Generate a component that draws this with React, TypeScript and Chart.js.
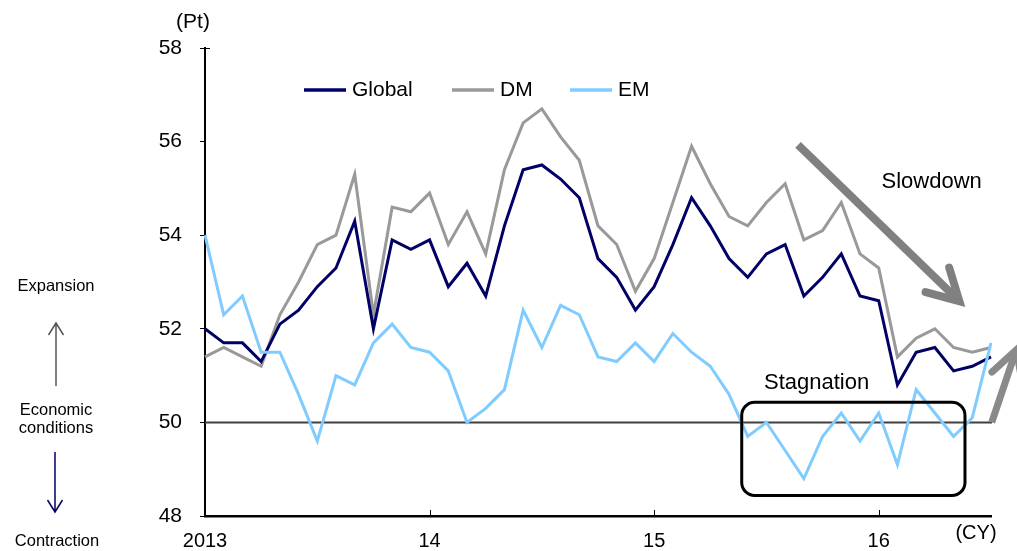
import React, { useEffect, useRef } from 'react';
import { Chart, registerables } from 'chart.js';

Chart.register(...registerables);

// Monthly PMI readings, Jan 2013 – Jul 2016
const MONTHS = [
  '2013-01', '2013-02', '2013-03', '2013-04', '2013-05', '2013-06', '2013-07', '2013-08', '2013-09', '2013-10', '2013-11', '2013-12',
  '2014-01', '2014-02', '2014-03', '2014-04', '2014-05', '2014-06', '2014-07', '2014-08', '2014-09', '2014-10', '2014-11', '2014-12',
  '2015-01', '2015-02', '2015-03', '2015-04', '2015-05', '2015-06', '2015-07', '2015-08', '2015-09', '2015-10', '2015-11', '2015-12',
  '2016-01', '2016-02', '2016-03', '2016-04', '2016-05', '2016-06', '2016-07',
];

// Year labels shown at each January
const YEAR_LABELS = ['2013', '14', '15', '16'];

const GLOBAL = [
  52.0, 51.7, 51.7, 51.3, 52.1, 52.4, 52.9, 53.3, 54.3, 52.0, 53.9, 53.7,
  53.9, 52.9, 53.4, 52.7, 54.2, 55.4, 55.5, 55.2, 54.8, 53.5, 53.1, 52.4,
  52.9, 53.8, 54.8, 54.2, 53.5, 53.1, 53.6, 53.8, 52.7, 53.1, 53.6, 52.7,
  52.6, 50.8, 51.5, 51.6, 51.1, 51.2, 51.4,
];

const DM = [
  51.4, 51.6, 51.4, 51.2, 52.3, 53.0, 53.8, 54.0, 55.3, 52.3, 54.6, 54.5,
  54.9, 53.8, 54.5, 53.6, 55.4, 56.4, 56.7, 56.1, 55.6, 54.2, 53.8, 52.8,
  53.5, 54.7, 55.9, 55.1, 54.4, 54.2, 54.7, 55.1, 53.9, 54.1, 54.7, 53.6,
  53.3, 51.4, 51.8, 52.0, 51.6, 51.5, 51.6,
];

const EM = [
  54.0, 52.3, 52.7, 51.5, 51.5, 50.6, 49.6, 51.0, 50.8, 51.7, 52.1, 51.6,
  51.5, 51.1, 50.0, 50.3, 50.7, 52.4, 51.6, 52.5, 52.3, 51.4, 51.3, 51.7,
  51.3, 51.9, 51.5, 51.2, 50.6, 49.7, 50.0, 49.4, 48.8, 49.7, 50.2, 49.6,
  50.2, 49.1, 50.7, 50.2, 49.7, 50.1, 51.7,
];

const SERIES_NAMES = ['Global', 'DM', 'EM'];
const SERIES_COLORS = ['#000066', '#999999', '#80CCFF'];

// Boom/bust threshold of the index
const NEUTRAL_LEVEL = 50;
const Y_MIN = 48;
const Y_MAX = 58;
const Y_STEP = 2;

// Annotations, placed in (month index, index level) coordinates
const SLOWDOWN_ARROW = { from: [31.69, 55.93], to: [40.31, 52.59] };
const RECOVERY_ARROW = { from: [42.04, 50.0], to: [43.35, 51.55] };
const STAGNATION_BOX = { x0: 28.68, x1: 40.61, yTop: 50.43, yBottom: 48.44 };
const SLOWDOWN_LABEL = { text: 'Slowdown', at: [38.83, 55.14] };
const STAGNATION_LABEL = { text: 'Stagnation', at: [32.68, 50.84] };

const FONT = '"Liberation Sans", Arial, Helvetica, sans-serif';

function drawArrow(
  ctx: CanvasRenderingContext2D,
  x0: number, y0: number, x1: number, y1: number,
  width: number, color: string, headLen: number, headAngle: number,
) {
  const ang = Math.atan2(y1 - y0, x1 - x0);
  ctx.save();
  ctx.strokeStyle = color;
  ctx.lineWidth = width;
  ctx.lineCap = 'butt';
  ctx.beginPath();
  ctx.moveTo(x0, y0);
  ctx.lineTo(x1 - Math.cos(ang) * width * 0.5, y1 - Math.sin(ang) * width * 0.5);
  ctx.stroke();
  ctx.lineCap = 'round';
  ctx.lineJoin = 'miter';
  ctx.beginPath();
  ctx.moveTo(x1 - headLen * Math.cos(ang - headAngle), y1 - headLen * Math.sin(ang - headAngle));
  ctx.lineTo(x1, y1);
  ctx.lineTo(x1 - headLen * Math.cos(ang + headAngle), y1 - headLen * Math.sin(ang + headAngle));
  ctx.stroke();
  ctx.restore();
}

function drawThinArrow(
  ctx: CanvasRenderingContext2D,
  x: number, yFrom: number, yTo: number, color: string,
) {
  const dir = yTo > yFrom ? 1 : -1;
  ctx.save();
  ctx.strokeStyle = color;
  ctx.lineWidth = 1.5;
  ctx.beginPath();
  ctx.moveTo(x, yFrom);
  ctx.lineTo(x, yTo);
  ctx.moveTo(x - 7.5, yTo - dir * 12);
  ctx.lineTo(x, yTo);
  ctx.lineTo(x + 7.5, yTo - dir * 12);
  ctx.stroke();
  ctx.restore();
}

const overlayPlugin = {
  id: 'pmiOverlays',
  beforeDatasetsDraw(chart: any) {
    const { ctx, chartArea, scales } = chart;
    const y = scales.y.getPixelForValue(NEUTRAL_LEVEL);
    ctx.save();
    ctx.strokeStyle = '#404040';
    ctx.lineWidth = 2;
    ctx.beginPath();
    ctx.moveTo(chartArea.left, y);
    ctx.lineTo(chartArea.right + 1, y);
    ctx.stroke();
    ctx.restore();
  },
  afterDatasetsDraw(chart: any) {
    const { ctx, chartArea, scales } = chart;
    const xs = scales.x;
    const ys = scales.y;
    const px = (p: number[]) => [xs.getPixelForValue(p[0]), ys.getPixelForValue(p[1])];

    ctx.save();

    // Year tick marks on the time axis
    ctx.strokeStyle = '#000';
    ctx.lineWidth = 1;
    for (let i = 12; i < MONTHS.length; i += 12) {
      const x = Math.round(xs.getPixelForValue(i)) + 0.5;
      ctx.beginPath();
      ctx.moveTo(x, chartArea.bottom);
      ctx.lineTo(x, chartArea.bottom - 6);
      ctx.stroke();
    }
    // Small inward tick at the top of the value axis
    ctx.beginPath();
    ctx.moveTo(chartArea.left, chartArea.top + 0.5);
    ctx.lineTo(chartArea.left + 5, chartArea.top + 0.5);
    ctx.stroke();

    // Stagnation box
    const bx0 = xs.getPixelForValue(STAGNATION_BOX.x0);
    const bx1 = xs.getPixelForValue(STAGNATION_BOX.x1);
    const by0 = ys.getPixelForValue(STAGNATION_BOX.yTop);
    const by1 = ys.getPixelForValue(STAGNATION_BOX.yBottom);
    ctx.strokeStyle = '#000';
    ctx.lineWidth = 3;
    ctx.beginPath();
    ctx.roundRect(bx0, by0, bx1 - bx0, by1 - by0, 13);
    ctx.stroke();

    // Trend arrows
    const [s0x, s0y] = px(SLOWDOWN_ARROW.from);
    const [s1x, s1y] = px(SLOWDOWN_ARROW.to);
    drawArrow(ctx, s0x, s0y, s1x, s1y, 8, '#808080', 35, (29 * Math.PI) / 180);
    const [r0x, r0y] = px(RECOVERY_ARROW.from);
    const [r1x, r1y] = px(RECOVERY_ARROW.to);
    drawArrow(ctx, r0x, r0y, r1x, r1y, 7, '#8a8a8a', 33, (29 * Math.PI) / 180);

    // Annotation labels
    ctx.fillStyle = '#000';
    ctx.textAlign = 'center';
    ctx.textBaseline = 'middle';
    ctx.font = `22px ${FONT}`;
    for (const lbl of [SLOWDOWN_LABEL, STAGNATION_LABEL]) {
      const [tx, ty] = px(lbl.at);
      ctx.fillText(lbl.text, tx, ty);
    }

    // Legend
    const legendX = [304, 452, 570];
    const legendY = 90;
    ctx.font = `21px ${FONT}`;
    ctx.textAlign = 'left';
    chart.data.datasets.forEach((ds: any, i: number) => {
      ctx.strokeStyle = ds.borderColor;
      ctx.lineWidth = 3.5;
      ctx.beginPath();
      ctx.moveTo(legendX[i], legendY);
      ctx.lineTo(legendX[i] + 42, legendY);
      ctx.stroke();
      ctx.fillStyle = '#000';
      ctx.fillText(ds.label, legendX[i] + 48, legendY);
    });

    // Axis unit labels
    ctx.textAlign = 'center';
    ctx.font = `21px ${FONT}`;
    ctx.fillText('(Pt)', 193, 22);
    ctx.font = `20px ${FONT}`;
    ctx.fillText('(CY)', 976, 533);

    // Reading guide on the left
    ctx.font = `16.5px ${FONT}`;
    ctx.fillText('Expansion', 56, 286);
    ctx.fillText('Economic', 56, 410);
    ctx.fillText('conditions', 56, 428);
    ctx.fillText('Contraction', 57, 541);
    drawThinArrow(ctx, 56, 386, 323, '#555555');
    drawThinArrow(ctx, 55, 452, 512, '#000066');

    ctx.restore();
  },
};

export default function App() {
  const canvasRef = useRef<HTMLCanvasElement | null>(null);

  useEffect(() => {
    const canvas = canvasRef.current;
    if (!canvas) return;
    const seriesValues = [GLOBAL, DM, EM];
    const chart = new Chart(canvas, {
      type: 'line',
      data: {
        labels: MONTHS,
        datasets: SERIES_NAMES.map((name, i) => ({
          label: name,
          data: seriesValues[i],
          borderColor: SERIES_COLORS[i],
          backgroundColor: SERIES_COLORS[i],
          borderWidth: 3,
          pointRadius: 0,
          tension: 0,
          fill: false,
          order: i === 0 ? 1 : i === 1 ? 2 : 0,
        })),
      },
      options: {
        responsive: false,
        animation: false,
        devicePixelRatio: 1,
        layout: { padding: { top: 48, right: 26, left: 0, bottom: 0 } },
        plugins: {
          legend: { display: false },
          tooltip: { enabled: false },
        },
        scales: {
          x: {
            type: 'category',
            offset: false,
            afterFit: (scale: any) => { scale.height = 35; },
            grid: { display: false, drawTicks: false },
            border: { display: true, color: '#000', width: 2.5 },
            ticks: {
              autoSkip: false,
              maxRotation: 0,
              minRotation: 0,
              padding: 13,
              color: '#000',
              font: { family: FONT, size: 20 },
              callback: (_v: any, index: number) =>
                index % 12 === 0 ? YEAR_LABELS[index / 12] : '',
            },
          },
          y: {
            min: Y_MIN,
            max: Y_MAX,
            afterFit: (scale: any) => { scale.width = 205; },
            grid: {
              display: true,
              drawOnChartArea: false,
              drawTicks: true,
              tickLength: 5,
              color: '#000',
              lineWidth: 1,
            },
            border: { display: true, color: '#000', width: 2 },
            ticks: {
              stepSize: Y_STEP,
              padding: 18,
              color: '#000',
              font: { family: FONT, size: 21 },
            },
          },
        },
      },
      plugins: [overlayPlugin],
    });
    return () => chart.destroy();
  }, []);

  return (
    <div style={{ position: 'absolute', left: 0, top: 0, width: 1017, height: 551, background: '#fff' }}>
      <canvas ref={canvasRef} width={1017} height={551} />
    </div>
  );
}
